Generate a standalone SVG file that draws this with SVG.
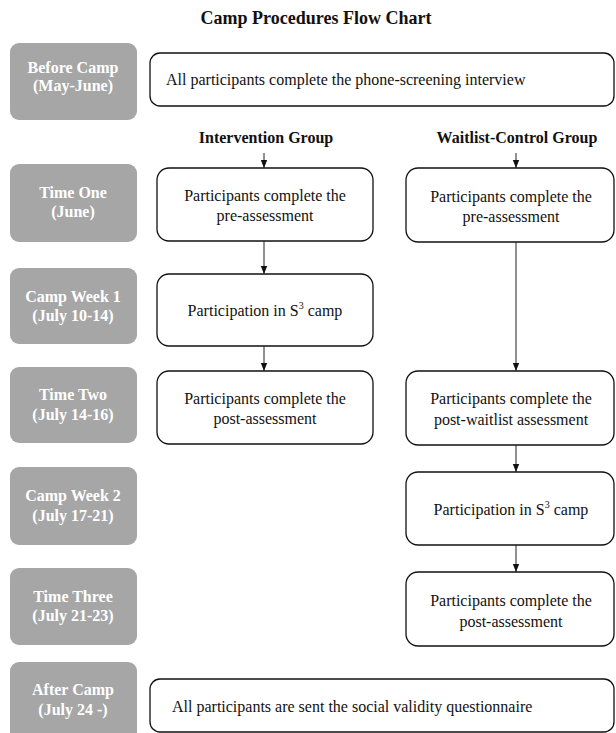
<svg xmlns="http://www.w3.org/2000/svg" width="616" height="733" viewBox="0 0 616 733">
<defs>
<style>
.phase rect{fill:#a6a6a6;stroke:none}
.phase text{fill:#ffffff;font-family:"Liberation Serif","Times New Roman",serif;font-weight:bold;font-size:16px;text-anchor:middle}
.box rect{fill:#ffffff;stroke:#111111;stroke-width:1.3}
.box text{fill:#111111;font-family:"Liberation Serif","Times New Roman",serif;font-size:16px;text-anchor:middle}
.box text.left{text-anchor:start}
.hdr{fill:#111111;font-family:"Liberation Serif","Times New Roman",serif;font-weight:bold;font-size:16px;text-anchor:middle}
.title{fill:#111111;font-family:"Liberation Serif","Times New Roman",serif;font-weight:bold;font-size:18px;text-anchor:middle}
.conn line{stroke:#222222;stroke-width:1;marker-end:url(#arr)}
</style>
<marker id="arr" viewBox="0 0 8 8" refX="8" refY="4" markerWidth="8" markerHeight="8" markerUnits="userSpaceOnUse" orient="auto">
<path d="M0,0.8 L8,4 L0,7.2 Z" fill="#111111"/>
</marker>
</defs>
<rect x="0" y="0" width="616" height="733" fill="#ffffff"/>
<text class="title" x="316" y="24">Camp Procedures Flow Chart</text>

<g id="phase-before" class="phase"><rect x="10" y="43" width="127" height="77" rx="9"/><text x="73" y="73">Before Camp</text><text x="73" y="91">(May-June)</text></g>
<g id="phase-time1" class="phase"><rect x="10" y="164" width="127" height="78" rx="9"/><text x="73" y="198">Time One</text><text x="73" y="217">(June)</text></g>
<g id="phase-week1" class="phase"><rect x="10" y="268" width="127" height="76" rx="9"/><text x="73" y="302">Camp Week 1</text><text x="73" y="321">(July 10-14)</text></g>
<g id="phase-time2" class="phase"><rect x="10" y="367" width="127" height="76" rx="9"/><text x="73" y="400">Time Two</text><text x="73" y="420">(July 14-16)</text></g>
<g id="phase-week2" class="phase"><rect x="10" y="467" width="127" height="78" rx="9"/><text x="73" y="501">Camp Week 2</text><text x="73" y="521">(July 17-21)</text></g>
<g id="phase-time3" class="phase"><rect x="10" y="568" width="127" height="77" rx="9"/><text x="73" y="602">Time Three</text><text x="73" y="621">(July 21-23)</text></g>
<g id="phase-after" class="phase"><rect x="10" y="662" width="127" height="90" rx="9"/><text x="73" y="695">After Camp</text><text x="73" y="715">(July 24 -)</text></g>

<g id="screening" class="box"><rect x="150" y="53" width="464" height="53" rx="10"/><text class="left" x="166" y="85">All participants complete the phone-screening interview</text></g>

<text class="hdr" x="266" y="143">Intervention Group</text>
<text class="hdr" x="517" y="143">Waitlist-Control Group</text>

<g id="int-pre" class="box"><rect x="157" y="168" width="216" height="73" rx="12"/><text x="265" y="201">Participants complete the</text><text x="265" y="221">pre-assessment</text></g>
<g id="int-camp" class="box"><rect x="157" y="274" width="216" height="72" rx="12"/><text x="265" y="316">Participation in S<tspan font-size="10" dy="-7">3</tspan><tspan dy="7"> camp</tspan></text></g>
<g id="int-post" class="box"><rect x="157" y="371" width="216" height="73" rx="12"/><text x="265" y="404">Participants complete the</text><text x="265" y="424">post-assessment</text></g>

<g id="wl-pre" class="box"><rect x="406" y="168" width="208" height="74" rx="12"/><text x="511" y="202">Participants complete the</text><text x="511" y="222">pre-assessment</text></g>
<g id="wl-postwait" class="box"><rect x="406" y="371" width="208" height="74" rx="12"/><text x="511" y="404">Participants complete the</text><text x="511" y="425">post-waitlist assessment</text></g>
<g id="wl-camp" class="box"><rect x="406" y="472" width="208" height="73" rx="12"/><text x="511" y="515">Participation in S<tspan font-size="10" dy="-7">3</tspan><tspan dy="7"> camp</tspan></text></g>
<g id="wl-post" class="box"><rect x="406" y="572" width="208" height="74" rx="12"/><text x="511" y="606">Participants complete the</text><text x="511" y="627">post-assessment</text></g>

<g id="survey" class="box"><rect x="150" y="679" width="464" height="53" rx="10"/><text class="left" x="172" y="712">All participants are sent the social validity questionnaire</text></g>

<g id="connectors" class="conn">
<line x1="264" y1="153" x2="264" y2="168"/>
<line x1="264" y1="241" x2="264" y2="274"/>
<line x1="264" y1="346" x2="264" y2="371"/>
<line x1="516" y1="153" x2="516" y2="168"/>
<line x1="516" y1="242" x2="516" y2="371"/>
<line x1="516" y1="445" x2="516" y2="472"/>
<line x1="516" y1="545" x2="516" y2="572"/>
</g>
</svg>
